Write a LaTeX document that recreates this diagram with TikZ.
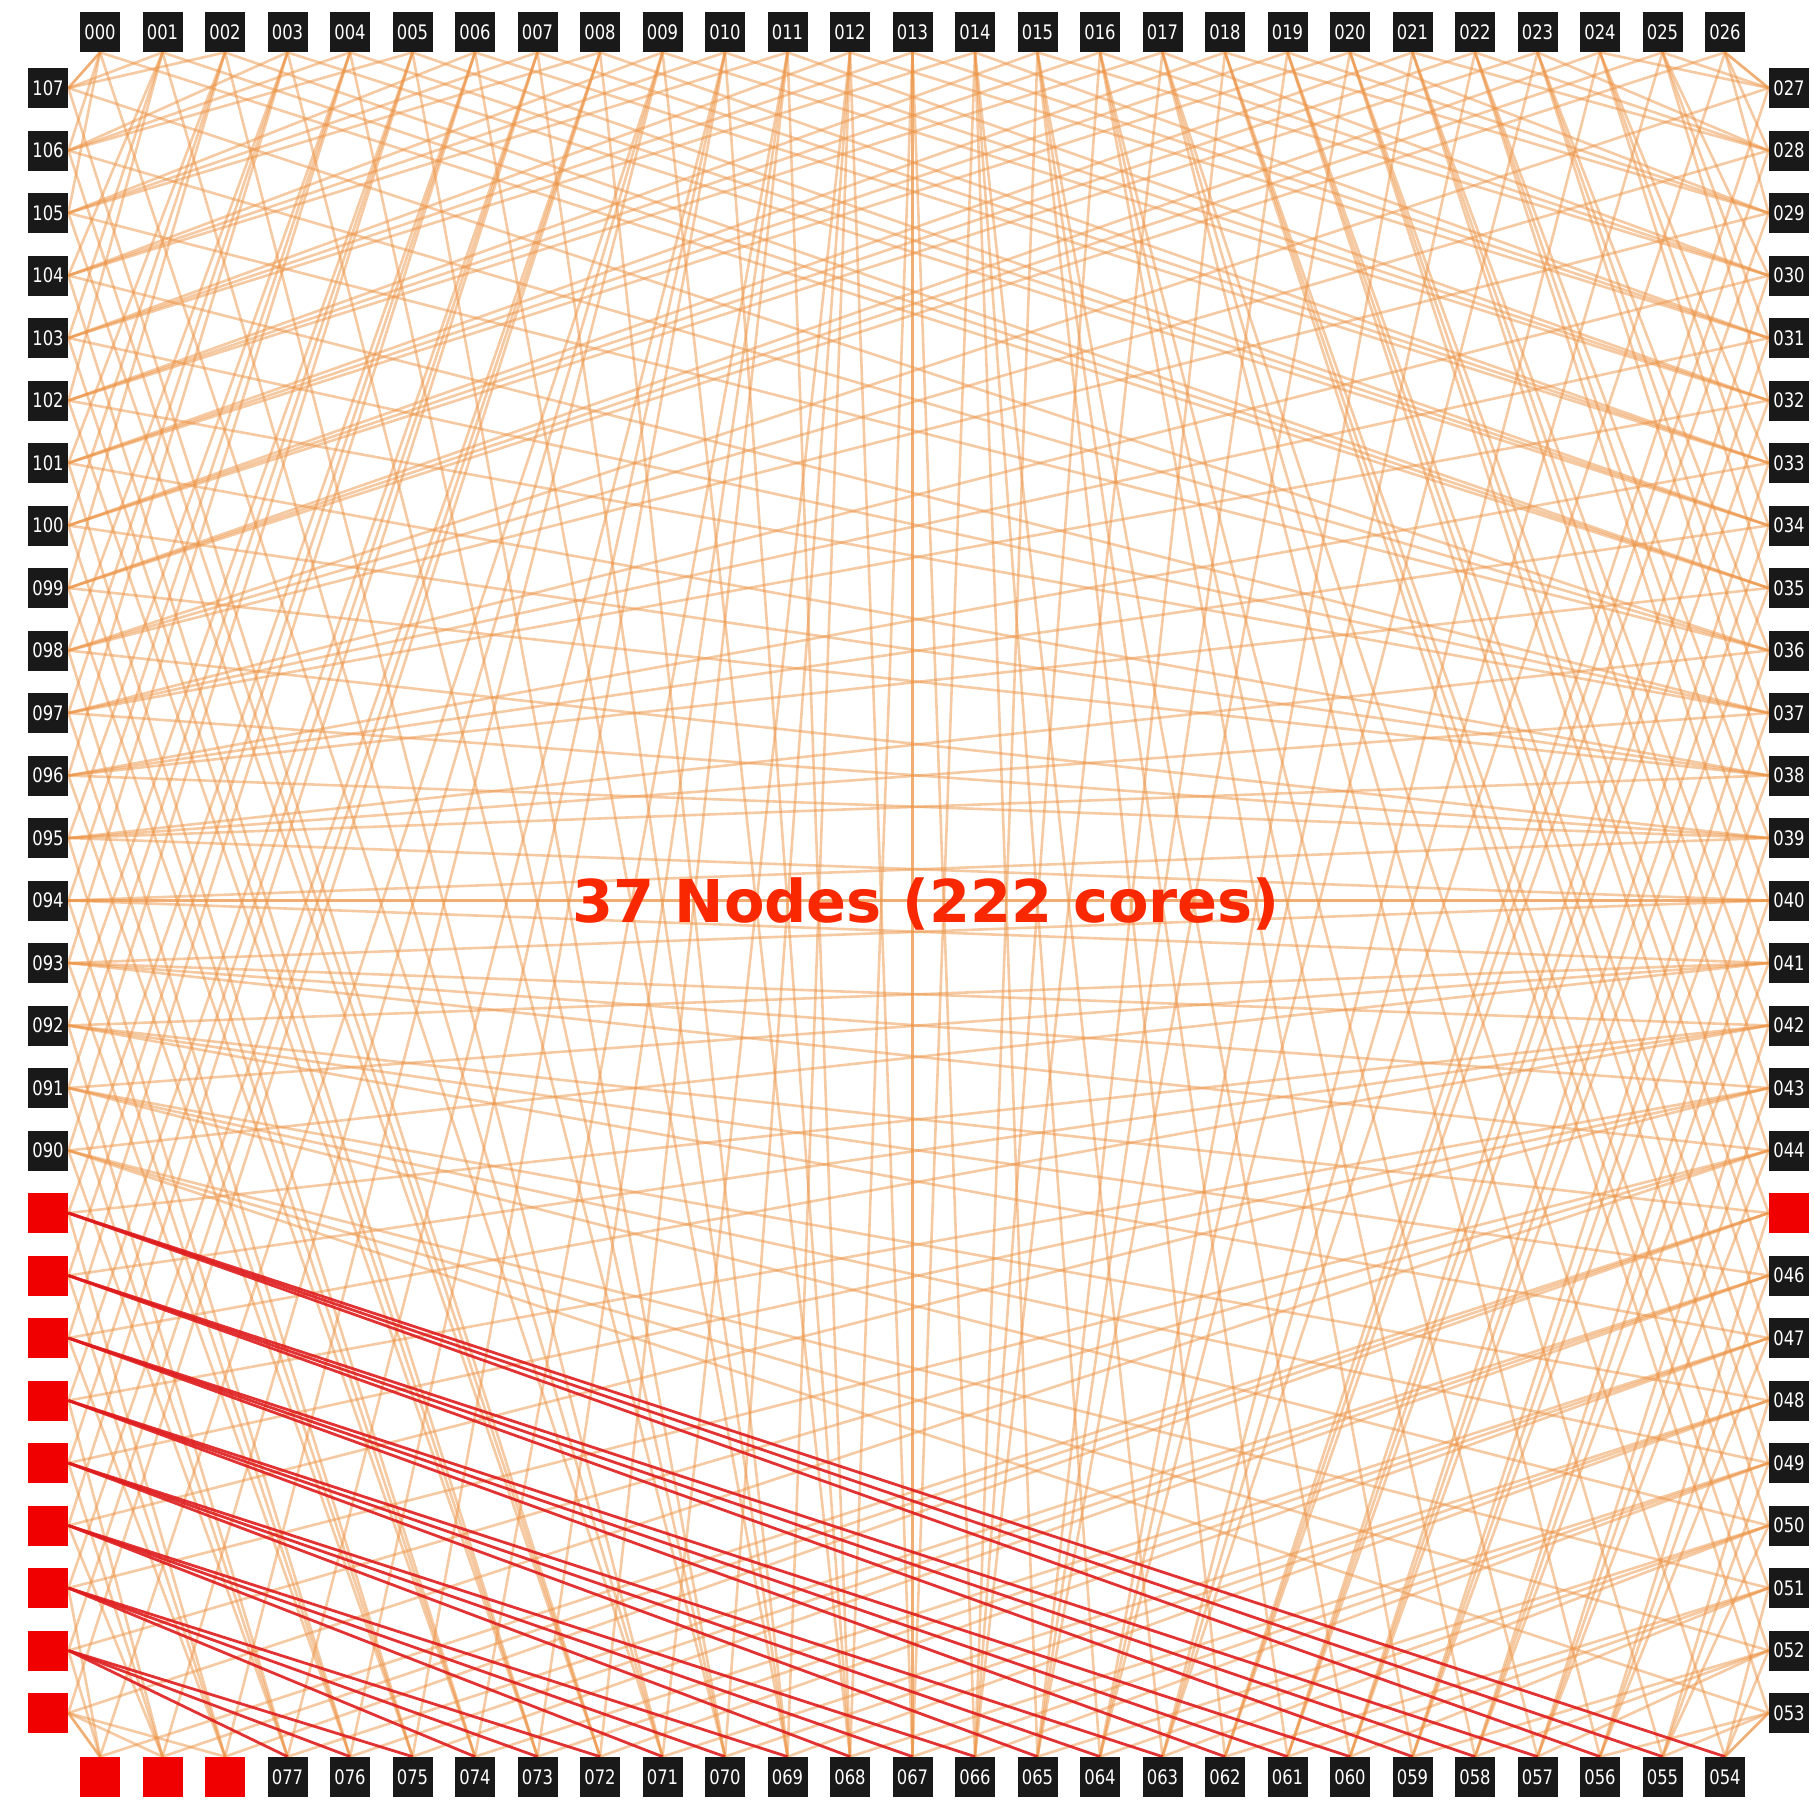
\documentclass[tikz,border=0pt]{standalone}
\usepackage{fontspec}
\setmainfont{DejaVu Sans}
\definecolor{edgeor}{RGB}{236,148,70}
\definecolor{edgered}{RGB}{222,28,30}
\definecolor{boxred}{RGB}{240,0,0}
\definecolor{boxblk}{RGB}{25,25,25}
\definecolor{titlered}{RGB}{250,40,0}
\pgfdeclarelayer{bg}
\pgfsetlayers{bg,main}
\newcommand\sideanchor[1]{\ifnum#1<27 south\else\ifnum#1<54 west\else\ifnum#1<81 north\else east\fi\fi\fi}
\newcommand\threedig[1]{\ifnum#1<10 00#1\else\ifnum#1<100 0#1\else#1\fi\fi}
\begin{document}
\begin{tikzpicture}[x=0.5pt,y=-0.5pt,
  rank/.style={fill=boxblk, text=white, minimum size=20pt, inner sep=0pt,
    font=\fontsize{10}{10}\selectfont},
  hotrank/.style={fill=boxred, minimum size=20pt, inner sep=0pt},
  link/.style={draw=edgeor, line width=1.3pt, opacity=0.5},
  hotlink/.style={draw=edgered, line width=1.4pt, opacity=0.9},
  title/.style={text=titlered, font=\fontsize{29.5}{30}\selectfont\bfseries}]
\useasboundingbox (0,0) rectangle (1814,1806);
% ranks around the square
\foreach \i in {0,...,107}{
  \ifnum\i<27
    \pgfmathsetmacro\px{100+62.5*\i}\def\py{32}%
  \else\ifnum\i<54
    \def\px{1789}\pgfmathsetmacro\py{88+62.5*(\i-27)}%
  \else\ifnum\i<81
    \pgfmathsetmacro\px{1725-62.5*(\i-54)}\def\py{1777}%
  \else
    \def\px{48}\pgfmathsetmacro\py{1713-62.5*(\i-81)}%
  \fi\fi\fi
  \def\hot{0}%
  \ifnum\i>77 \ifnum\i<90 \def\hot{1}\fi\fi
  \ifnum\i=45 \def\hot{1}\fi
  \ifnum\hot=1
    \node[hotrank] (n\i) at (\px,\py) {};
  \else
    \node[rank] (n\i) at (\px,\py) {\scalebox{0.82}[1]{\threedig{\i}}};
  \fi
}
\node[title] (caption) at (926,904) {37 Nodes (222 cores)};
\begin{pgfonlayer}{bg}
% orange links
\foreach \src in {0,...,81,90,91,...,107}{
  \foreach \rr in {0,1,2}{
    \pgfmathtruncatemacro\tgt{mod(105-3*\src+\rr+324,108)}
    \edef\aa{\sideanchor{\src}}
    \edef\ab{\sideanchor{\tgt}}
    \draw[link] (n\src.\aa) -- (n\tgt.\ab);
  }
}
% red links
\foreach \src in {82,...,89}{
  \foreach \rr in {0,1,2}{
    \pgfmathtruncatemacro\tgt{mod(105-3*\src+\rr+324,108)}
    \edef\aa{\sideanchor{\src}}
    \edef\ab{\sideanchor{\tgt}}
    \draw[hotlink] (n\src.\aa) -- (n\tgt.\ab);
  }
}
\end{pgfonlayer}
\end{tikzpicture}
\end{document}
